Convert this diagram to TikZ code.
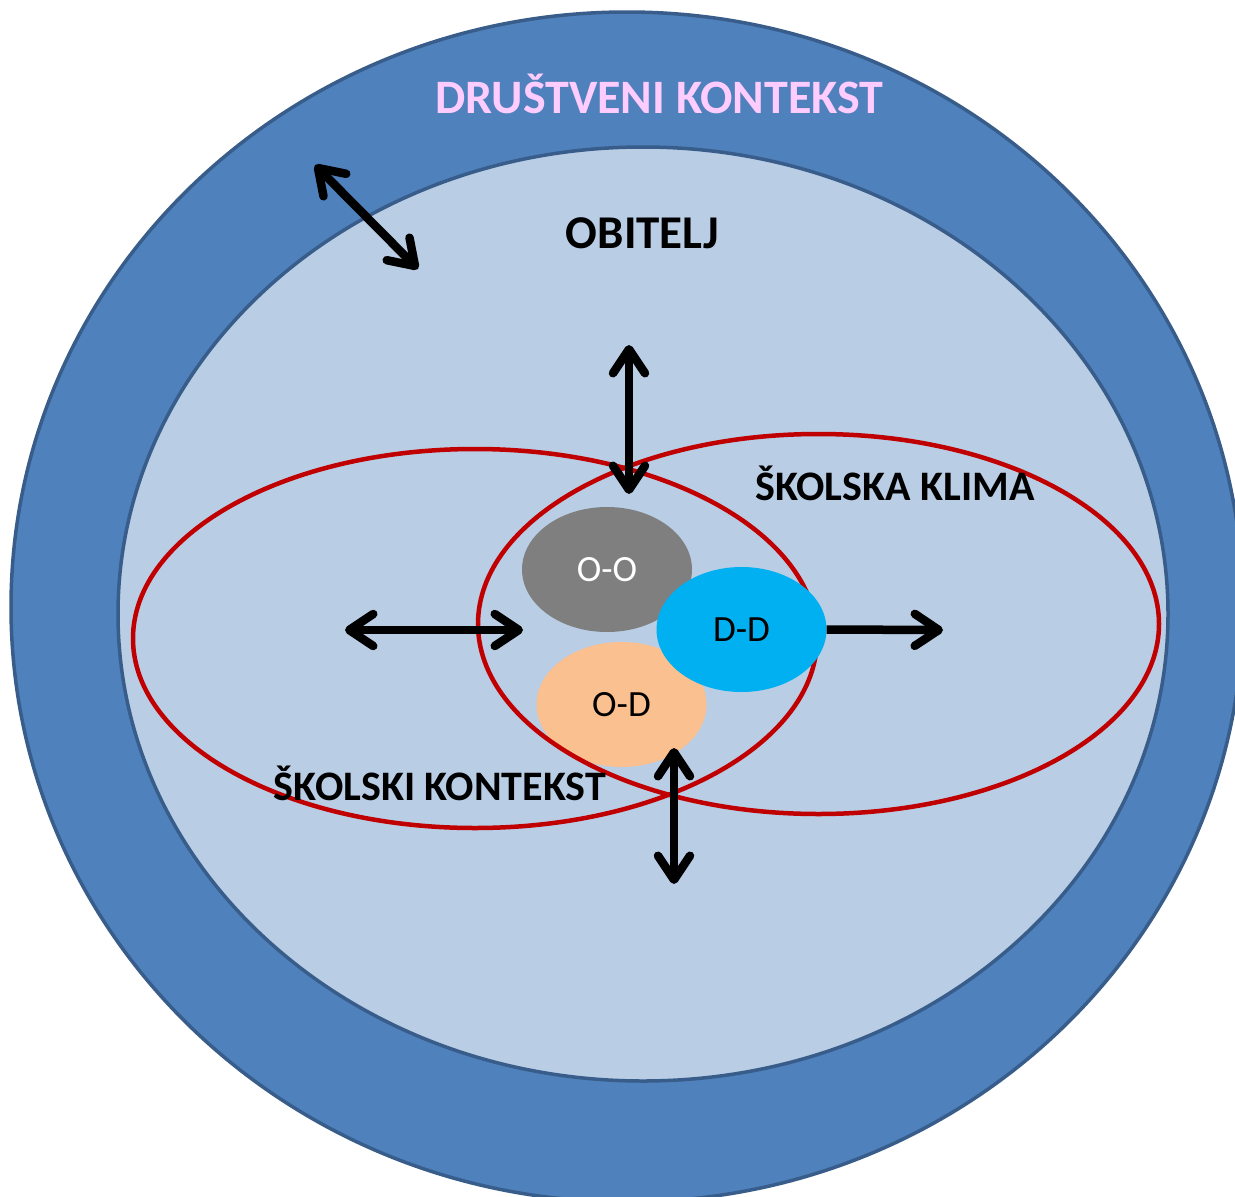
\documentclass[tikz,border=0pt]{standalone}
\usepackage{fontspec}
\setmainfont{Carlito}
\usetikzlibrary{shapes.geometric,arrows.meta}
\definecolor{outerblue}{HTML}{4F81BD}
\definecolor{rimblue}{HTML}{385D8A}
\definecolor{innerblue}{HTML}{B9CDE5}
\definecolor{redline}{HTML}{C00000}
\definecolor{ggray}{HTML}{7F7F7F}
\definecolor{cyanb}{HTML}{00B0F0}
\definecolor{peach}{HTML}{FAC090}
\definecolor{pinktxt}{HTML}{FFCCFF}
\tikzset{
  dblarrow/.style={line width=8.5pt, black,
    arrows={Straight Barb[length=24pt,width=32pt,round]-Straight Barb[length=24pt,width=32pt,round]}},
  onearrow/.style={line width=8.5pt, black,
    arrows={-Straight Barb[length=24pt,width=32pt,round]}},
  ring/.style={draw=redline, line width=4.5pt},
  blob/.style={ellipse, minimum width=170pt, minimum height=125pt, inner sep=0pt,
    font=\fontsize{37}{37}\selectfont},
  bigtxt/.style={font=\bfseries\fontsize{42}{42}\selectfont, anchor=base, inner sep=0pt}
}
\begin{document}
\begin{tikzpicture}[x=1pt,y=-1pt]
\fill[white] (0,0) rectangle (1235,1197);
\useasboundingbox (0,0) rectangle (1235,1197);
\begin{scope}
\clip (0,0) rectangle (1235,1197);
% outer ring
\draw[fill=outerblue, draw=rimblue, line width=3.5pt] (627,607) ellipse [x radius=616pt, y radius=595pt];
% inner family ellipse
\draw[fill=innerblue, draw=rimblue, line width=3.5pt] (643,614) ellipse [x radius=525pt, y radius=467pt];
\end{scope}
% labels
\node[bigtxt, text=pinktxt, font=\bfseries\fontsize{48}{48}\selectfont] (drust) at (659.5,113) {DRUŠTVENI KONTEKST};
\node[bigtxt, font=\bfseries\fontsize{47}{47}\selectfont] (obit) at (642.5,248) {OBITELJ};
% small ellipses
\node[blob, fill=ggray, text=white] (oo) at (607,569.5) {O-O};
\node[blob, fill=peach] (od) at (621.5,704.5) {O-D};
% red ellipses
\draw[ring] (475,638.5) ellipse [x radius=342pt, y radius=189.5pt];
\draw[ring] (818.5,624) ellipse [x radius=340.5pt, y radius=190pt];
\node[blob, fill=cyanb] (dd) at (741.5,629.5) {D-D};
\node[bigtxt] (klima) at (895,500) {ŠKOLSKA KLIMA};
\node[bigtxt] (kont) at (440,800) {ŠKOLSKI KONTEKST};
% arrows
\coordinate (d1) at (315,165);
\coordinate (d2) at (418,269);
\coordinate (v1) at (629,345);
\coordinate (v2) at (629,494);
\coordinate (h1) at (345,630);
\coordinate (h2) at (523,630);
\coordinate (r2) at (943,630);
\coordinate (b1) at (674,748);
\coordinate (b2) at (674,884);
\draw[dblarrow] (d1) -- (d2);
\draw[dblarrow] (v1) -- (v2);
\draw[dblarrow] (h1) -- (h2);
\draw[onearrow] (dd.east) -- (r2);
\draw[dblarrow] (b1) -- (b2);
\end{tikzpicture}
\end{document}
